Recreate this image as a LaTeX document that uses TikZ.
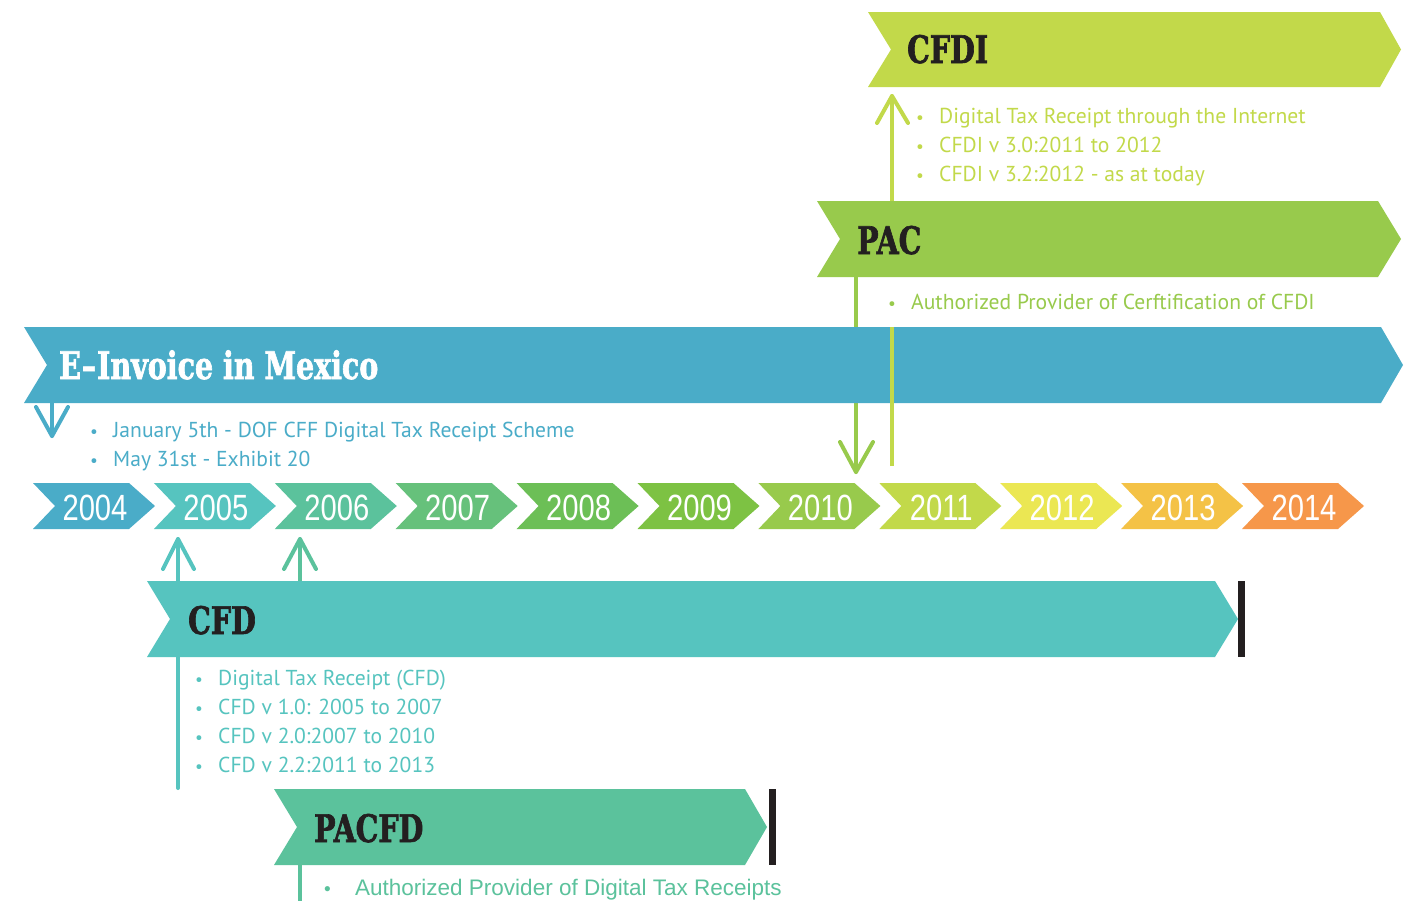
\documentclass[tikz,border=0pt]{standalone}
\usepackage{fontspec}
\usetikzlibrary{calc}
\setmainfont{PT Sans}
\newfontfamily\slabfont{DejaVu Serif}[FakeStretch=0.75,FakeBold=1.6]
\newfontfamily\yearfont{Liberation Sans}[FakeStretch=0.8]
\newfontfamily\arialfont{Liberation Sans}
\definecolor{cblue}{HTML}{4AACC8}
\definecolor{cteal}{HTML}{56C4BF}
\definecolor{cpacfd}{HTML}{5BC29C}
\definecolor{cyrseven}{HTML}{66C17B}
\definecolor{cyreight}{HTML}{6CBF56}
\definecolor{cyrnine}{HTML}{7DC243}
\definecolor{cpac}{HTML}{98CA4C}
\definecolor{ccfdi}{HTML}{C2D94A}
\definecolor{cyrtwelve}{HTML}{EBE753}
\definecolor{cyrthirteen}{HTML}{F4C246}
\definecolor{cyrfourteen}{HTML}{F6974A}
\definecolor{tdark}{HTML}{231F20}
\newcommand\bitem[1]{\makebox[23pt][l]{\scalebox{0.8}{\textbullet}}#1}
\begin{document}
\begin{tikzpicture}[x=1pt,y=-1pt,
  title/.style={anchor=base west,inner sep=0pt,font=\slabfont\bfseries\fontsize{38}{38}\selectfont,text=tdark},
  yeartext/.style={anchor=base,inner sep=0pt,text=white,font=\yearfont\fontsize{36.5}{36.5}\selectfont},
  blist/.style={anchor=base west,inner sep=0pt,font=\fontsize{21.6}{29}\selectfont},
  conn/.style={line width=4pt,line cap=round,line join=round},
  bar/.style={fill=tdark}]
\useasboundingbox (0,0) rectangle (1418,900);
\fill[white] (0,0) rectangle (1418,900);

% connectors behind banners
\coordinate (pacBot) at (856,277);
\coordinate (pacTip) at (856,472);
\draw[conn,cpac] (pacBot) -- (pacTip);
\draw[conn,cpac] ($(pacTip)+(-16,-30)$) -- (pacTip) -- ($(pacTip)+(17,-30)$);

\coordinate (cfdBot) at (178,788);
\coordinate (cfdTip) at (178,539);
\draw[conn,cteal] (cfdBot) -- (cfdTip);
\draw[conn,cteal] ($(cfdTip)+(-15,30)$) -- (cfdTip) -- ($(cfdTip)+(16,30)$);

\coordinate (pacfdTop) at (300,581);
\coordinate (pacfdTip) at (300,539);
\draw[conn,cpacfd] (pacfdTop) -- (pacfdTip);
\draw[conn,cpacfd] ($(pacfdTip)+(-16,30)$) -- (pacfdTip) -- ($(pacfdTip)+(16,30)$);
\coordinate (pacfdBot) at (300,865);
\coordinate (pacfdEnd) at (300,902);
\draw[line width=4pt,cpacfd] (pacfdBot) -- (pacfdEnd);

\coordinate (cfdiTop) at (892,201);
\coordinate (cfdiTip) at (892,96);
\draw[conn,ccfdi] (cfdiTop) -- (cfdiTip);
\draw[conn,ccfdi] ($(cfdiTip)+(-15,27)$) -- (cfdiTip) -- ($(cfdiTip)+(16,27)$);

% banners
\fill[ccfdi] (868,12) -- (1380,12) -- (1401,49.5) -- (1380,87) -- (868,87) -- (891,49.5) -- cycle;
\node[title] (cfdi) at (907,63) {CFDI};

\fill[cpac] (817,201) -- (1378,201) -- (1401,239) -- (1378,277) -- (817,277) -- (840,239) -- cycle;
\node[title] (pac) at (857,254) {PAC};

\fill[cblue] (24,327) -- (1381,327) -- (1403,365) -- (1381,403) -- (24,403) -- (47,365) -- cycle;
\node[title,text=white] (einv) at (59,379) {E\kern1pt–\kern1ptInvoice in Mexico};

\fill[cteal] (147,581) -- (1215,581) -- (1238,619) -- (1215,657) -- (147,657) -- (170,619) -- cycle;
\fill[bar] (1238,581) rectangle (1245,657);
\node[title] (cfd) at (188,634) {CFD};

\fill[cpacfd] (274,789) -- (745,789) -- (767,827) -- (745,865) -- (274,865) -- (297,827) -- cycle;
\fill[bar] (769,789) rectangle (776,865);
\node[title] (pacfd) at (314,842) {PACFD};

% CFDI line over E-Invoice banner
\coordinate (cfdiStart) at (892,466);
\coordinate (cfdiMid) at (892,327);
\draw[line width=4pt,ccfdi] (cfdiStart) -- (cfdiMid);

% E-Invoice down arrow
\coordinate (einvBot) at (52,403);
\coordinate (einvTip) at (52,436);
\draw[conn,cblue] (einvBot) -- (einvTip);
\draw[conn,cblue] ($(einvTip)+(-16,-29)$) -- (einvTip) -- ($(einvTip)+(16,-29)$);

% years
\foreach \i/\yr/\col in {0/2004/cblue,1/2005/cteal,2/2006/cpacfd,3/2007/cyrseven,4/2008/cyreight,5/2009/cyrnine,6/2010/cpac,7/2011/ccfdi,8/2012/cyrtwelve,9/2013/cyrthirteen,10/2014/cyrfourteen}{
  \pgfmathsetmacro\L{33+120.9*\i}
  \fill[\col] (\L,483) -- (\L+96,483) -- (\L+122,506) -- (\L+96,529) -- (\L,529) -- (\L+22,506) -- cycle;
  \node[yeartext] (y\yr) at (\L+62,520) {\yr};
}

% bullet texts
\begin{scope}[text=ccfdi]
\node[blist] (cfdiA) at (916,123) {\bitem{Digital Tax Receipt through the Internet}};
\node[blist] (cfdiB) at (916,152) {\bitem{CFDI v 3.0:2011 to 2012}};
\node[blist] (cfdiC) at (916,181) {\bitem{CFDI v 3.2:2012 - as at today}};
\end{scope}
\node[blist,text=cpac] (pacA) at (888,309) {\bitem{Authorized Provider of Cerftification of CFDI}};
\begin{scope}[text=cblue]
\node[blist] (einvA) at (90,437) {\bitem{January 5th - DOF CFF Digital Tax Receipt Scheme}};
\node[blist] (einvB) at (90,466) {\bitem{May 31st - Exhibit 20}};
\end{scope}
\begin{scope}[text=cteal]
\node[blist] (cfdA) at (195,685) {\bitem{Digital Tax Receipt (CFD)}};
\node[blist] (cfdB) at (195,714) {\bitem{CFD v 1.0: 2005 to 2007}};
\node[blist] (cfdC) at (195,743) {\bitem{CFD v 2.0:2007 to 2010}};
\node[blist] (cfdD) at (195,772) {\bitem{CFD v 2.2:2011 to 2013}};
\end{scope}
\node[anchor=base west,inner sep=0pt,text=cpacfd,font=\arialfont\fontsize{22.5}{29}\selectfont] (pacfdA) at (324,895) {\makebox[31pt][l]{\scalebox{0.85}{\textbullet}}Authorized Provider of Digital Tax Receipts};
\end{tikzpicture}
\end{document}
